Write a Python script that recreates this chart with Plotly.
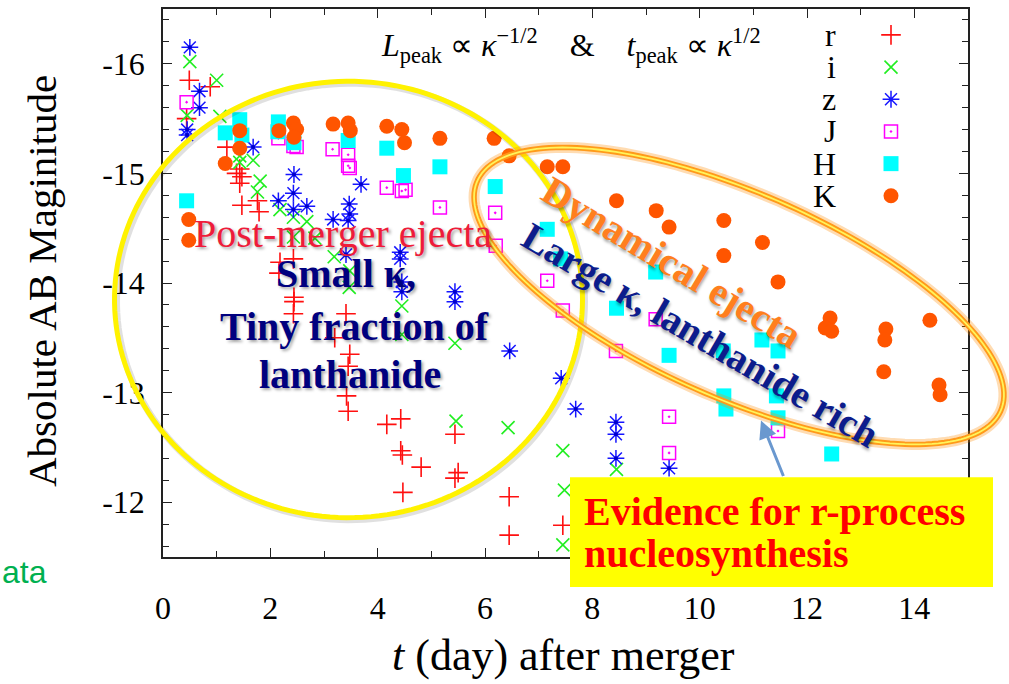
import numpy as np
import plotly.graph_objects as go

# ---- photometry: days after merger and absolute AB magnitude per band ----
r_t = [0.49, 0.88, 0.44, 1.19, 1.43, 1.37, 1.47, 1.43, 1.47, 1.76, 1.79, 2.18, 2.16, 2.43, 2.44,
       2.44, 2.43, 3.41, 3.20, 3.48, 3.45, 3.42, 3.45, 4.17, 4.43, 4.43, 4.46, 4.81, 4.47, 5.44,
       5.44, 5.50, 6.45, 6.45, 7.45]
r_mag = [-15.85, -15.79, -15.50, -15.24, -15.04, -15.00, -14.97, -14.91, -14.71, -14.75, -14.65,
         -14.19, -14.09, -14.22, -13.87, -13.83, -13.72, -13.72, -13.50, -13.35, -13.24, -12.97,
         -12.83, -12.71, -12.76, -12.47, -12.43, -12.32, -12.09, -12.62, -12.22, -12.27, -12.05,
         -11.70, -11.79]

i_t = [0.50, 1.00, 0.45, 1.06, 1.43, 1.43, 1.68, 1.81, 1.76, 2.18, 2.43, 2.68, 2.43, 2.83, 3.19,
       3.48, 3.47, 4.45, 4.45, 5.44, 5.46, 6.43, 7.45, 7.48, 7.45, 8.45]
i_mag = [-16.02, -15.85, -15.53, -15.52, -15.16, -15.10, -15.12, -14.93, -14.83, -14.67, -14.60,
         -14.56, -14.42, -14.41, -14.24, -14.11, -13.96, -13.79, -13.53, -13.45, -12.74, -12.68,
         -12.47, -12.11, -11.61, -12.30]

z_t = [0.50, 0.68, 0.68, 0.45, 0.45, 1.68, 2.44, 2.43, 2.15, 2.43, 2.68, 3.17, 3.47, 3.48, 3.45,
       3.69, 3.41, 4.42, 4.42, 4.45, 4.45, 5.44, 5.44, 6.46, 7.42, 7.69, 8.44, 8.44, 8.44, 9.43]
z_mag = [-16.15, -15.75, -15.60, -15.40, -15.35, -15.24, -14.99, -14.82, -14.75, -14.67, -14.70,
         -14.58, -14.72, -14.63, -14.57, -14.90, -14.26, -14.28, -14.22, -14.01, -13.92, -13.92,
         -13.83, -13.38, -13.13, -12.85, -12.73, -12.62, -12.40, -12.31]

J_t = [0.44, 2.15, 2.43, 2.49, 3.16, 3.45, 3.45, 3.48, 4.17, 4.45, 4.52, 5.16, 6.19, 6.20, 7.16,
       7.45, 8.44, 9.18, 9.43, 9.43, 11.46]
J_mag = [-15.65, -15.32, -15.25, -15.24, -15.22, -15.17, -15.07, -15.05, -14.87, -14.84, -14.85,
         -14.69, -14.64, -14.34, -14.02, -13.75, -13.38, -13.67, -12.78, -12.45, -12.65]

H_t = [0.44, 1.16, 1.43, 1.47, 2.15, 2.14, 2.44, 3.45, 4.17, 4.48, 5.16, 6.19, 7.16, 7.41, 8.45,
       9.18, 9.43, 10.44, 10.45, 10.49, 11.16, 11.46, 11.43, 11.46, 12.46]
H_mag = [-14.75, -15.37, -15.49, -15.35, -15.47, -15.38, -15.28, -15.30, -15.23, -14.98, -15.06,
         -14.88, -14.49, -14.22, -13.77, -14.10, -13.34, -13.38, -12.97, -12.85, -13.48, -13.38,
         -12.97, -12.77, -12.44]

K_t = [0.48, 0.48, 1.16, 1.43, 1.43, 2.16, 2.43, 2.49, 2.44, 3.17, 3.45, 3.49, 4.17, 4.45, 4.50,
       5.16, 6.17, 6.45, 7.16, 7.45, 8.45, 9.19, 9.43, 10.45, 10.45, 11.17, 11.46, 12.43, 12.34,
       12.46, 13.47, 13.45, 13.43, 14.29, 14.46, 14.48]
K_mag = [-14.58, -14.39, -15.09, -15.39, -15.23, -15.39, -15.46, -15.40, -15.33, -15.45, -15.46,
         -15.39, -15.43, -15.40, -15.28, -15.32, -15.32, -15.16, -15.06, -15.06, -14.75, -14.66,
         -14.51, -14.57, -14.25, -14.37, -14.01, -13.68, -13.59, -13.56, -13.58, -13.48, -13.19,
         -13.66, -13.07, -12.98]

band_names = ["r", "i", "z", "J", "H", "K"]

y_tick_vals = [-16, -15, -14, -13, -12]
y_tick_text = ["-16", "-15", "-14", "-13", "-12"]
x_tick_vals = [0, 2, 4, 6, 8, 10, 12, 14]
x_tick_text = ["0", "2", "4", "6", "8", "10", "12", "14"]

# ---- styling ----
SERIF = "Liberation Serif, Times New Roman, serif"
W, H = 1009, 684
L, R, T, B = 163, 968, 7, 557          # plot frame in pixels


def px(x):
    return (x - L) / (R - L)


def py(y):
    return (B - y) / (B - T)


styles = {
    "r": dict(symbol="cross-thin-open", size=14, color="#FF1010",
              line=dict(color="#FF1010", width=1.6)),
    "i": dict(symbol="x-thin-open", size=13, color="#22EE22",
              line=dict(color="#22EE22", width=1.6)),
    "z": dict(symbol="asterisk-open", size=14, color="#1515FF",
              line=dict(color="#1515FF", width=1.5)),
    "J": dict(symbol="square-open-dot", size=13, color="#FF00FF",
              line=dict(color="#FF00FF", width=1.5)),
    "H": dict(symbol="square", size=15, color="#00FFFF", line=dict(width=0)),
    "K": dict(symbol="circle", size=15, color="#FF5500", line=dict(width=0)),
}
data = {"r": (r_t, r_mag), "i": (i_t, i_mag), "z": (z_t, z_mag),
        "J": (J_t, J_mag), "H": (H_t, H_mag), "K": (K_t, K_mag)}

fig = go.Figure()
for name in band_names:
    t, m = data[name]
    fig.add_trace(go.Scatter(x=t, y=m, mode="markers", name=name, marker=styles[name],
                             showlegend=False, cliponaxis=False))
    if name == "z":
        fig.add_trace(go.Scatter(x=t, y=m, mode="markers", showlegend=False,
                                 marker=dict(symbol="circle", size=4, color="#0000CC")))

SHADOW = "2px 2px 3px rgba(0,0,0,0.35)"
ann = []


def text(t, x, y, size, color, bold=False, angle=0, xanchor="center", shadow=None,
         family=SERIF):
    ann.append(dict(text=t, xref="paper", yref="paper", x=px(x), y=py(y), xanchor=xanchor,
                    yanchor="middle", showarrow=False, textangle=angle,
                    font=dict(family=family, size=size, color=color,
                              weight="bold" if bold else "normal",
                              shadow=shadow or "none")))


# key in the upper right corner: labels right-aligned, symbol to their right
key_rows = [33, 65.3, 97.6, 129.9, 162.2, 194.5]
for name, row in zip(band_names, key_rows):
    fig.add_trace(go.Scatter(x=[px(891)], y=[py(row)], mode="markers", xaxis="x2", yaxis="y2",
                             marker=styles[name], showlegend=False, cliponaxis=False))
    text(name, 838, row, 32, "black", xanchor="right")


def ellipse_path(cx, cy, rx, ry, rot_deg, n=180):
    t = np.linspace(0, 2 * np.pi, n)
    c, s = np.cos(np.radians(rot_deg)), np.sin(np.radians(rot_deg))
    xs = cx + rx * np.cos(t) * c - ry * np.sin(t) * s
    ys = cy + rx * np.cos(t) * s + ry * np.sin(t) * c
    pts = [f"{px(x):.5f},{py(y):.5f}" for x, y in zip(xs, ys)]
    return "M" + " L".join(pts) + " Z"


shapes = []
# post-merger ejecta ring (with soft shadow)
shapes.append(dict(type="path", xref="paper", yref="paper", layer="above",
                   path=ellipse_path(350.5, 300.5, 234, 219, 0),
                   line=dict(color="rgba(0,0,0,0.12)", width=7)))
shapes.append(dict(type="path", xref="paper", yref="paper", layer="above",
                   path=ellipse_path(348.5, 298.5, 234, 219, 0),
                   line=dict(color="#FFF200", width=5)))
# dynamical ejecta ring: orange glow with a bright core
dyn = ellipse_path(739, 295, 286, 103, 23.8)
shapes.append(dict(type="path", xref="paper", yref="paper", layer="above", path=dyn,
                   line=dict(color="rgba(255,140,0,0.30)", width=11)))
shapes.append(dict(type="path", xref="paper", yref="paper", layer="above", path=dyn,
                   line=dict(color="#FF9A1A", width=5.5)))
shapes.append(dict(type="path", xref="paper", yref="paper", layer="above", path=dyn,
                   line=dict(color="#FFF45A", width=1.8)))
# highlight box
shapes.append(dict(type="rect", xref="paper", yref="paper", layer="above",
                   x0=px(570), x1=px(993), y0=py(587), y1=py(477),
                   fillcolor="#FFFF00", line=dict(width=0)))

text("<i>L</i><sub>peak</sub> ∝ <i>κ</i><sup>−1/2</sup>\u2003&amp;\u2003"
     "<i>t</i><sub>peak</sub> ∝ <i>κ</i><sup>1/2</sup>", 571, 44, 32, "black")
text("Post-merger ejecta", 343, 232, 40, "#EE1C3A", shadow=SHADOW)
text("Small κ,", 346, 272, 40, "#00007F", bold=True, shadow=SHADOW)
text("Tiny fraction of", 354, 326, 40, "#00007F", bold=True, shadow=SHADOW)
text("lanthanide", 350, 374, 40, "#00007F", bold=True, shadow=SHADOW)
text("Dynamical ejecta", 672, 261, 40, "#FF7F1E", bold=True, angle=31, shadow=SHADOW)
text("Large κ, lanthanide rich", 700, 334, 39, "#0C1C8C", bold=True, angle=30.3,
     shadow=SHADOW)
text("Evidence for r-process", 582, 511, 40, "#FF0000", bold=True, xanchor="left")
text("nucleosynthesis", 582, 553, 40, "#FF0000", bold=True, xanchor="left")
text("ata", 0, 572, 32, "#00B050", xanchor="left", family="Liberation Sans, Arial, sans-serif")
text("Absolute AB Maginitude", 42, 280, 41, "black", angle=-90)
text("<i>t</i> (day) after merger", 563, 656, 44, "black")

# pointer from the box to the dynamical ejecta ring
ann.append(dict(text="", xref="paper", yref="paper", x=px(761), y=py(420), ax=23, ay=57,
                showarrow=True, arrowhead=2, arrowsize=1.2, arrowwidth=3,
                arrowcolor="#6A98CF"))

axis_common = dict(showline=True, linecolor="#222222", linewidth=1.5, mirror="allticks",
                   ticks="inside", tickcolor="#222222", tickwidth=1.3, showgrid=False,
                   zeroline=False, tickfont=dict(family=SERIF, size=32, color="black"))

fig.update_layout(
    width=W, height=H,
    margin=dict(l=L, r=W - R, t=T, b=H - B, pad=0),
    paper_bgcolor="white", plot_bgcolor="white",
    font=dict(family=SERIF, color="black"),
    xaxis=dict(range=[0, 15], tickmode="array", tickvals=x_tick_vals, ticktext=x_tick_text,
               ticklen=9, ticklabelstandoff=22,
               minor=dict(dtick=1, tick0=0, ticks="inside", ticklen=6, tickcolor="#222222",
                          tickwidth=1.3),
               **axis_common),
    yaxis=dict(range=[-11.5, -16.5], tickmode="array", tickvals=y_tick_vals,
               ticktext=y_tick_text, ticklen=9, ticklabelstandoff=10,
               minor=dict(dtick=0.2, tick0=0, ticks="inside", ticklen=6, tickcolor="#222222",
                          tickwidth=1.3),
               **axis_common),
    xaxis2=dict(overlaying="x", range=[0, 1], visible=False),
    yaxis2=dict(overlaying="y", range=[0, 1], visible=False),
)
fig.layout.shapes = shapes
fig.layout.annotations = ann

fig.write_html("out.html")
